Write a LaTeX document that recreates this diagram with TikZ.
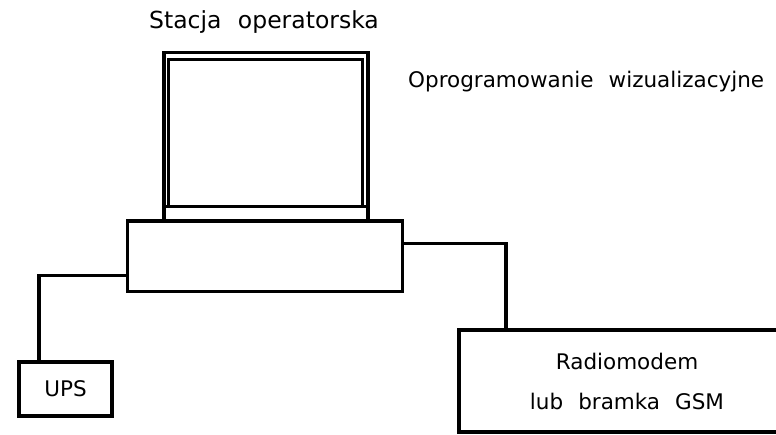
\documentclass[tikz,border=0pt]{standalone}
\usepackage{fontspec}
\setmainfont[WordSpace=2.2]{DejaVu Sans}

\begin{document}
\begin{tikzpicture}[x=1pt, y=-1pt,
    box/.style={draw, rectangle, line width=3.2pt, inner sep=0pt},
    wire/.style={line width=3.2pt},
    label/.style={font=\fontsize{21.5}{40}\selectfont, inner sep=0pt}]
  \clip (0,0) rectangle (776,434);

  % stacja operatorska
  \node[box, minimum width=204pt, minimum height=168.7pt] (monitor) at (266,136.65) {};
  \draw[wire] ([xshift=6pt,yshift=-8.7pt]monitor.north west) rectangle ([xshift=-7.3pt,yshift=16pt]monitor.south east);
  \draw[wire] ([yshift=16pt]monitor.south west) -- ([yshift=16pt]monitor.south east);
  \node[box, minimum width=275pt, minimum height=70.7pt] (komputer) at (265.2,256.35) {};

  \node[label, font=\fontsize{23.5}{28}\selectfont] (stacja) at (264,22) {Stacja operatorska};
  \node[label, anchor=west] (oprog) at (408,82) {Oprogramowanie wizualizacyjne};

  % urzadzenia
  \node[box, label, minimum width=93pt, minimum height=54pt] (ups) at (65.5,389) {UPS};
  \node[box, label, align=center, minimum width=336pt, minimum height=102pt] (radio) at (627,381)
    {Radiomodem\\lub bramka GSM};

  \draw[wire] ([yshift=-19.5pt]komputer.west) -| ([xshift=-26.5pt]ups.north);
  \draw[wire] ([yshift=12.5pt]komputer.east) -| ([xshift=-121pt]radio.north);
\end{tikzpicture}
\end{document}
